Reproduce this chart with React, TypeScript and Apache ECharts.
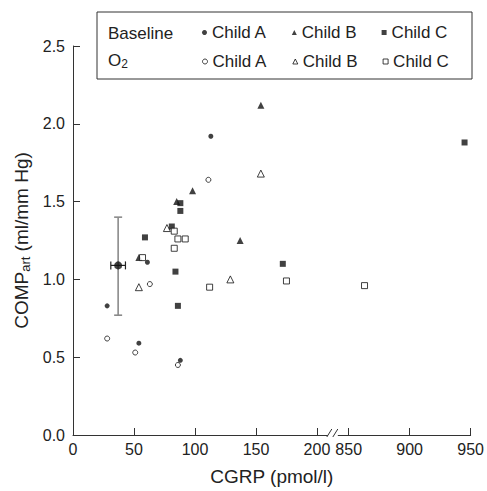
import React, { useEffect, useRef } from 'react';
import * as echarts from 'echarts';

// ---- data (x in pmol/l, y in ml/mm Hg) ----
const baseAX = [28, 54, 61, 88, 113];
const baseAY = [0.83, 0.59, 1.11, 0.48, 1.92];
const o2AX = [28, 51, 63, 86, 111];
const o2AY = [0.62, 0.53, 0.97, 0.45, 1.64];
const baseBX = [54, 85, 98, 137, 154];
const baseBY = [1.14, 1.5, 1.57, 1.25, 2.12];
const o2BX = [54, 77, 129, 154];
const o2BY = [0.95, 1.33, 1.0, 1.68];
const baseCX = [59, 81, 84, 86, 88, 88, 172, 945];
const baseCY = [1.27, 1.34, 1.05, 0.83, 1.49, 1.44, 1.1, 1.88];
const o2CX = [57, 83, 83, 86, 92, 112, 175, 863];
const o2CY = [1.14, 1.31, 1.2, 1.26, 1.26, 0.95, 0.99, 0.96];

const meanX = 37;
const meanY = 1.09;
const meanXErr = [31, 43];
const meanYErr = [0.77, 1.4];

const xTickValues = [0, 50, 100, 150, 200, 850, 900, 950];
const yMin = 0;
const yMax = 2.5;
const yInterval = 0.5;

// axis break: values 200..850 are collapsed to a small gap
const BREAK_LOW = 200;
const BREAK_HIGH = 850;
const BREAK_GAP = 26;
const X_END = 950;

const tx = (v: number) => (v >= BREAK_HIGH ? v - BREAK_HIGH + BREAK_LOW + BREAK_GAP : v);
const inv = (v: number) => (v > BREAK_LOW + BREAK_GAP / 2 ? v - BREAK_LOW - BREAK_GAP + BREAK_HIGH : v);

const FONT = '"Liberation Sans", Arial, Helvetica, sans-serif';
const INK = '#222';

const pts = (xs: number[], ys: number[]) => xs.map((x, i) => [tx(x), ys[i]]);

export default function App() {
  const ref = useRef<HTMLDivElement>(null);
  useEffect(() => {
    if (!ref.current) return;
    const chart = echarts.init(ref.current, undefined, { renderer: 'svg' });
    const filled = { color: '#111' };
    const open = { color: '#fff', borderColor: '#111', borderWidth: 1 };
    const legendCommon = {
      left: 197,
      itemWidth: 5,
      itemHeight: 5,
      itemGap: 25,
      textStyle: { fontSize: 17, color: INK, fontFamily: FONT },
      itemStyle: { borderWidth: 1 },
      formatter: (n: string) => n.replace(/^\S+ /, ''),
      selectedMode: false,
    };
    const option: any = {
      animation: false,
      textStyle: { fontFamily: FONT, color: INK },
      grid: { left: 73, right: 14, top: 46, bottom: 53, containLabel: false },
      xAxis: {
        type: 'value',
        min: 0,
        max: tx(X_END),
        name: 'CGRP (pmol/l)',
        nameLocation: 'middle',
        nameGap: 32,
        nameTextStyle: { fontSize: 19, color: INK, fontFamily: FONT },
        axisLine: { show: true, lineStyle: { color: '#333', width: 1 } },
        axisTick: { show: true, inside: true, length: 7, lineStyle: { color: '#333' }, customValues: xTickValues.map(tx) },
        axisLabel: {
          fontSize: 16,
          color: INK,
          margin: 6,
          customValues: xTickValues.map(tx),
          formatter: (v: number) => String(Math.round(inv(v))),
        },
        splitLine: { show: false },
      },
      yAxis: {
        type: 'value',
        min: yMin,
        max: yMax,
        interval: yInterval,
        name: 'COMP{sub|art} (ml/mm Hg)',
        nameLocation: 'middle',
        nameGap: 40,
        nameTextStyle: {
          fontSize: 19,
          color: INK,
          fontFamily: FONT,
          rich: { sub: { fontSize: 13, fontFamily: FONT, color: INK, padding: [7, 0, 0, 0], verticalAlign: 'bottom' } },
        },
        axisLine: { show: true, lineStyle: { color: '#333', width: 1 } },
        axisTick: { show: true, inside: true, length: 7, lineStyle: { color: '#333' } },
        axisLabel: { fontSize: 16, color: INK, margin: 8, formatter: (v: number) => v.toFixed(1) },
        splitLine: { show: false },
      },
      legend: [
        { ...legendCommon, data: ['Baseline Child A', 'Baseline Child B', 'Baseline Child C'], top: 19 },
        { ...legendCommon, data: ['O2 Child A', 'O2 Child B', 'O2 Child C'], top: 48 },
      ],
      series: [
        {
          type: 'custom',
          name: 'mean',
          z: 1,
          data: [[tx(meanX), meanY, tx(meanXErr[0]), tx(meanXErr[1]), meanYErr[0], meanYErr[1]]],
          renderItem: (params: any, api: any) => {
            const x = api.value(0), y = api.value(1);
            const top = api.coord([x, api.value(5)]);
            const bot = api.coord([x, api.value(4)]);
            const l = api.coord([api.value(2), y]);
            const r = api.coord([api.value(3), y]);
            const gray = { stroke: '#8a8a8a', lineWidth: 1.6 };
            const blk = { stroke: '#222', lineWidth: 1.2 };
            return {
              type: 'group',
              children: [
                { type: 'line', shape: { x1: top[0], y1: top[1], x2: bot[0], y2: bot[1] }, style: gray },
                { type: 'line', shape: { x1: top[0] - 4, y1: top[1], x2: top[0] + 4, y2: top[1] }, style: gray },
                { type: 'line', shape: { x1: bot[0] - 4, y1: bot[1], x2: bot[0] + 4, y2: bot[1] }, style: gray },
                { type: 'line', shape: { x1: l[0], y1: l[1], x2: r[0], y2: r[1] }, style: blk },
                { type: 'line', shape: { x1: l[0], y1: l[1] - 4, x2: l[0], y2: l[1] + 4 }, style: blk },
                { type: 'line', shape: { x1: r[0], y1: r[1] - 4, x2: r[0], y2: r[1] + 4 }, style: blk },
              ],
            };
          },
        },
        { type: 'scatter', name: 'mean point', z: 3, symbol: 'circle', symbolSize: 8, itemStyle: filled, data: [[tx(meanX), meanY]] },
        { type: 'scatter', name: 'Baseline Child A', z: 3, symbol: 'circle', symbolSize: 5, itemStyle: filled, data: pts(baseAX, baseAY) },
        { type: 'scatter', name: 'O2 Child A', z: 3, symbol: 'circle', symbolSize: 5, itemStyle: open, data: pts(o2AX, o2AY) },
        { type: 'scatter', name: 'Baseline Child B', z: 3, symbol: 'triangle', symbolSize: 7, itemStyle: filled, data: pts(baseBX, baseBY) },
        { type: 'scatter', name: 'O2 Child B', z: 3, symbol: 'triangle', symbolSize: 7, itemStyle: open, data: pts(o2BX, o2BY) },
        { type: 'scatter', name: 'Baseline Child C', z: 3, symbol: 'rect', symbolSize: 6, itemStyle: filled, data: pts(baseCX, baseCY) },
        { type: 'scatter', name: 'O2 Child C', z: 3, symbol: 'rect', symbolSize: 6, itemStyle: open, data: pts(o2CX, o2CY) },
      ],
    };
    chart.setOption(option);

    const bx = chart.convertToPixel({ xAxisIndex: 0 }, BREAK_LOW + BREAK_GAP / 2) as number;
    const by = chart.convertToPixel({ yAxisIndex: 0 }, 0) as number;
    chart.setOption({
      graphic: [
        { type: 'rect', z: 10, shape: { x: 97, y: 12, width: 375, height: 67 }, style: { fill: 'none', stroke: '#333', lineWidth: 1 } },
        { type: 'text', z: 10, left: 108, top: 25, style: { text: 'Baseline', font: `17px ${FONT}`, fill: INK } },
        {
          type: 'text', z: 10, left: 108, top: 52,
          style: {
            text: 'O{sub|2}', font: `17px ${FONT}`, fill: INK,
            rich: { sub: { fontSize: 12, fontFamily: FONT, fill: INK, padding: [7, 0, 0, 0], verticalAlign: 'bottom' } },
          },
        },
        { type: 'rect', z: 10, shape: { x: bx - 5, y: by - 2, width: 10, height: 4 }, style: { fill: '#fff' } },
        { type: 'line', z: 11, shape: { x1: bx - 6, y1: by + 2, x2: bx - 1, y2: by - 6 }, style: { stroke: '#333', lineWidth: 1 } },
        { type: 'line', z: 11, shape: { x1: bx, y1: by + 2, x2: bx + 5, y2: by - 6 }, style: { stroke: '#333', lineWidth: 1 } },
      ],
    });
    return () => chart.dispose();
  }, []);
  return <div ref={ref} style={{ position: 'absolute', left: 0, top: 0, width: 487, height: 491 }} />;
}
